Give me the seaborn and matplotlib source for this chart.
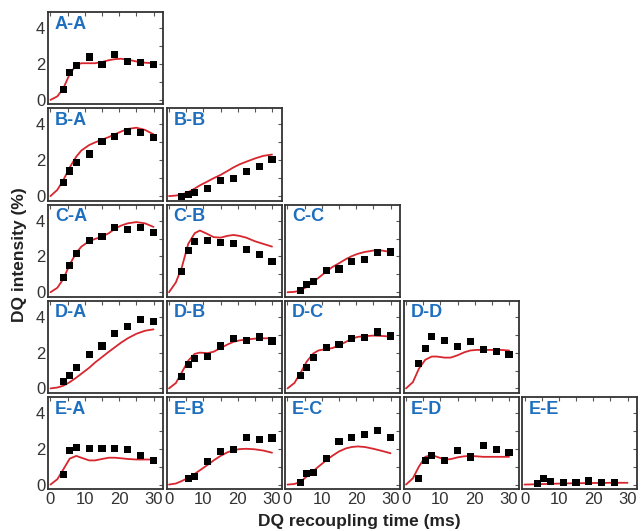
import numpy as np
import matplotlib
matplotlib.use("Agg")
import matplotlib.pyplot as plt
from matplotlib.ticker import MultipleLocator
import seaborn as sns

# DQ build-up data (squares) and simulated curves (red) for each site pair
sites = ["A", "B", "C", "D", "E"]

# recoupling times of the measured points (ms)
t_pts = [3.75, 5.625, 7.5, 11.25, 15, 18.75, 22.5, 26.25, 30]
# times at which the fitted curves are read (ms)
t_fit = [0, 2, 3.75, 5.6, 7.5, 9, 11.25, 13, 15, 17, 18.75, 20.5, 22.5, 25, 27.5, 30]

aa_pts = [0.6, 1.55, 1.9, 2.4, 2.0, 2.55, 2.15, 2.1, 2.0]
aa_fit = [0, 0.2, 0.65, 1.45, 1.95, 2.05, 2.05, 2.05, 2.12, 2.22, 2.28, 2.3, 2.25, 2.15, 2.08, 2.05]

ba_pts = [0.75, 1.4, 1.9, 2.35, 3.05, 3.35, 3.6, 3.55, 3.25]
ba_fit = [0, 0.35, 0.9, 1.6, 2.2, 2.55, 2.85, 3.0, 3.15, 3.3, 3.45, 3.6, 3.75, 3.82, 3.7, 3.45]
bb_pts = [0.0, 0.08, 0.2, 0.43, 0.87, 0.97, 1.37, 1.65, 2.05]
bb_fit = [0, 0.03, 0.09, 0.22, 0.42, 0.6, 0.82, 1.0, 1.18, 1.4, 1.6, 1.77, 1.92, 2.1, 2.25, 2.32]

ca_pts = [0.82, 1.5, 2.17, 2.9, 3.1, 3.63, 3.52, 3.6, 3.36]
ca_fit = [0, 0.25, 0.75, 1.55, 2.2, 2.55, 2.85, 2.98, 3.1, 3.3, 3.55, 3.72, 3.85, 3.92, 3.85, 3.65]
cb_pts = [1.17, 2.32, 2.85, 2.87, 2.8, 2.7, 2.4, 2.1, 1.72]
cb_fit = [0, 0.55, 1.4, 2.7, 3.3, 3.45, 3.25, 3.08, 3.05, 3.15, 3.2, 3.15, 3.05, 2.85, 2.7, 2.55]
cc_pts = [0.1, 0.45, 0.62, 1.2, 1.3, 1.72, 1.82, 2.2, 2.25]
cc_fit = [0, 0.02, 0.1, 0.3, 0.58, 0.8, 1.15, 1.4, 1.62, 1.85, 2.02, 2.15, 2.25, 2.33, 2.33, 2.25]

da_pts = [0.37, 0.74, 1.19, 1.9, 2.37, 3.05, 3.48, 3.85, 3.72]
da_fit = [0, 0.05, 0.15, 0.35, 0.6, 0.82, 1.15, 1.45, 1.75, 2.05, 2.3, 2.55, 2.8, 3.05, 3.22, 3.3]
db_pts = [0.65, 1.35, 1.67, 1.8, 2.37, 2.8, 2.7, 2.87, 2.65]
db_fit = [0, 0.3, 0.9, 1.55, 1.93, 2.0, 1.97, 2.05, 2.25, 2.45, 2.6, 2.68, 2.73, 2.78, 2.8, 2.8]
dc_pts = [0.7, 1.17, 1.74, 2.31, 2.43, 2.8, 2.85, 3.15, 2.93]
dc_fit = [0, 0.3, 0.85, 1.5, 1.95, 2.12, 2.2, 2.25, 2.4, 2.6, 2.78, 2.88, 2.92, 2.95, 2.93, 2.9]
dd_pts = [1.39, 2.24, 2.89, 2.69, 2.33, 2.61, 2.15, 2.07, 1.89]
dd_fit = [0, 0.35, 1.1, 1.6, 1.78, 1.78, 1.72, 1.72, 1.85, 2.02, 2.12, 2.15, 2.15, 2.15, 2.15, 2.12]

ea_pts = [0.56, 1.88, 2.05, 1.99, 2.03, 2.01, 1.97, 1.6, 1.36]
ea_fit = [0, 0.3, 0.85, 1.45, 1.6, 1.5, 1.35, 1.35, 1.43, 1.5, 1.5, 1.47, 1.43, 1.4, 1.4, 1.4]
eb_pts = [np.nan, 0.35, 0.44, 1.28, 1.85, 1.96, 2.61, 2.5, 2.6]
eb_fit = [0, 0.06, 0.2, 0.38, 0.6, 0.8, 1.1, 1.35, 1.6, 1.8, 1.92, 1.98, 2.0, 1.97, 1.9, 1.78]
ec_pts = [0.1, 0.6, 0.7, 1.48, 2.42, 2.62, 2.81, 3.0, 2.62]
ec_fit = [0, 0.03, 0.15, 0.45, 0.75, 1.0, 1.35, 1.6, 1.85, 2.02, 2.1, 2.13, 2.1, 2.0, 1.88, 1.75]
ed_pts = [0.33, 1.36, 1.6, 1.32, 1.88, 1.54, 2.2, 1.97, 1.77]
ed_fit = [0, 0.35, 1.0, 1.55, 1.65, 1.55, 1.4, 1.42, 1.52, 1.58, 1.6, 1.58, 1.55, 1.55, 1.55, 1.55]
ee_pts = [0.07, 0.33, 0.19, 0.13, 0.11, 0.2, 0.11, 0.13, np.nan]
ee_fit = [0, 0.01, 0.02, 0.03, 0.04, 0.05, 0.06, 0.07, 0.07, 0.08, 0.08, 0.09, 0.09, 0.1, 0.1, 0.1]

panels = {
    (0, 0): (aa_pts, aa_fit),
    (1, 0): (ba_pts, ba_fit), (1, 1): (bb_pts, bb_fit),
    (2, 0): (ca_pts, ca_fit), (2, 1): (cb_pts, cb_fit), (2, 2): (cc_pts, cc_fit),
    (3, 0): (da_pts, da_fit), (3, 1): (db_pts, db_fit), (3, 2): (dc_pts, dc_fit), (3, 3): (dd_pts, dd_fit),
    (4, 0): (ea_pts, ea_fit), (4, 1): (eb_pts, eb_fit), (4, 2): (ec_pts, ec_fit), (4, 3): (ed_pts, ed_fit),
    (4, 4): (ee_pts, ee_fit),
}

sns.set_style("white")
plt.rcParams['font.family'] = ['Liberation Sans', 'DejaVu Sans']

fig, axes = plt.subplots(5, 5, figsize=(6.41, 5.31), dpi=100)
fig.subplots_adjust(left=0.075, right=0.994, top=0.977, bottom=0.079,
                    wspace=0.03, hspace=0.043)

for i in range(5):
    for j in range(5):
        ax = axes[i, j]
        if j > i:
            ax.axis("off")
            continue
        pts, fit = panels[(i, j)]
        sns.lineplot(x=t_fit, y=fit, ax=ax, color="#d7262e", lw=1.3)
        sns.scatterplot(x=t_pts, y=pts, ax=ax, marker="s", color="black",
                        s=26, edgecolor="none", zorder=3)
        ax.set_xlim(-0.7, 32.8)
        ax.set_ylim(-0.25, 4.9)
        ax.xaxis.set_major_locator(MultipleLocator(10))
        ax.xaxis.set_minor_locator(MultipleLocator(5))
        ax.yaxis.set_major_locator(MultipleLocator(2))
        ax.yaxis.set_minor_locator(MultipleLocator(1))
        ax.tick_params(which="both", direction="in", top=True, right=True,
                       length=3, width=0.8, color="#555555",
                       labelsize=12, labelcolor="#333333", pad=2)
        ax.tick_params(labelleft=(j == 0), labelbottom=(i == 4))
        for sp in ax.spines.values():
            sp.set_color("#333333")
            sp.set_linewidth(1.3)
        ax.text(0.06, 0.96, f"{sites[i]}-{sites[j]}", transform=ax.transAxes,
                ha="left", va="top", fontsize=13, fontweight="bold",
                color="#1f6fbf")
        ax.set_xlabel("")
        ax.set_ylabel("")

fig.text(0.56, 0.018, "DQ recoupling time (ms)", ha="center", va="center",
         fontsize=12.5, fontweight="bold", color="#222222")
fig.text(0.03, 0.52, "DQ intensity (%)", ha="center", va="center",
         rotation=90, fontsize=12.5, fontweight="bold", color="#222222")

plt.savefig("out.png", dpi=100)
